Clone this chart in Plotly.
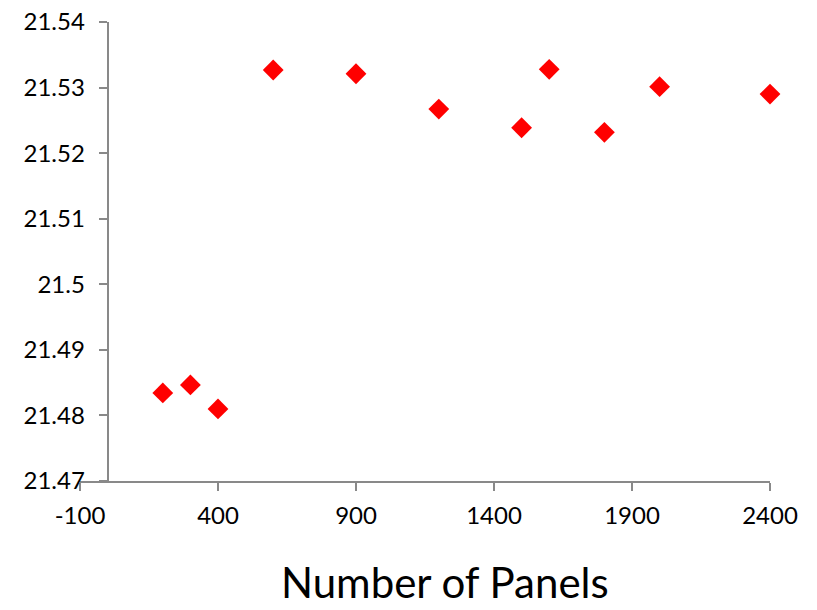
import plotly.graph_objects as go

# Number of panels vs. computed result
panels = [200, 300, 400, 600, 900, 1200, 1500, 1600, 1800, 2000, 2400]
values = [21.48343, 21.48465, 21.48099, 21.53268, 21.53211, 21.52672,
          21.52387, 21.53278, 21.52317, 21.53013, 21.52901]

x_ticks = [-100, 400, 900, 1400, 1900, 2400]
y_ticks = [21.47, 21.48, 21.49, 21.50, 21.51, 21.52, 21.53, 21.54]
y_labels = ["21.47", "21.48", "21.49", "21.5", "21.51", "21.52", "21.53", "21.54"]

x_range = [-100, 2400]
y_range = [21.47, 21.54]

AXIS_GRAY = "#898989"
FONT = "Lato"

fig = go.Figure()
fig.add_trace(go.Scatter(
    x=panels, y=values, mode="markers",
    marker=dict(symbol="diamond", size=16, color="#ff0000",
                line=dict(width=0)),
    yaxis="y", showlegend=False, cliponaxis=False,
))

# vertical axis line crossing at x = 0 (ticks only, labels on the left edge)
y_cross = (0 - x_range[0]) / (x_range[1] - x_range[0])

fig.update_layout(
    width=817, height=610,
    margin=dict(l=80, r=47, t=22, b=129, autoexpand=False),
    paper_bgcolor="white", plot_bgcolor="white",
    font=dict(family=FONT, color="black"),
    xaxis=dict(
        range=x_range, tickvals=x_ticks, ticktext=[str(v) for v in x_ticks],
        showgrid=False, zeroline=False, showline=True, linecolor=AXIS_GRAY,
        linewidth=1.5, ticks="outside", ticklen=8, tickcolor=AXIS_GRAY,
        tickwidth=1.5, tickfont=dict(size=24, family=FONT), anchor="y",
        ticklabelstandoff=4, automargin=False,
    ),
    yaxis=dict(
        range=y_range, tickvals=y_ticks, ticktext=y_labels,
        showgrid=False, zeroline=False, showline=False, ticks="",
        tickfont=dict(size=24, family=FONT), anchor="free", position=0.007,
        automargin=False,
    ),
    yaxis2=dict(
        range=y_range, tickvals=y_ticks, showticklabels=False,
        overlaying="y", anchor="free", position=y_cross,
        showgrid=False, zeroline=False, showline=True, linecolor=AXIS_GRAY,
        linewidth=1.5, ticks="outside", ticklen=8, tickcolor=AXIS_GRAY,
        tickwidth=1.5, automargin=False,
    ),
    annotations=[dict(
        text="Number of Panels", xref="paper", yref="paper",
        x=0.529, y=-0.279, xanchor="center", yanchor="bottom",
        showarrow=False, font=dict(size=42, family=FONT, color="black"),
    )],
)

# invisible trace so the second y axis is rendered
fig.add_trace(go.Scatter(x=[None], y=[None], yaxis="y2", showlegend=False,
                         hoverinfo="skip"))

fig.write_html("out.html")
